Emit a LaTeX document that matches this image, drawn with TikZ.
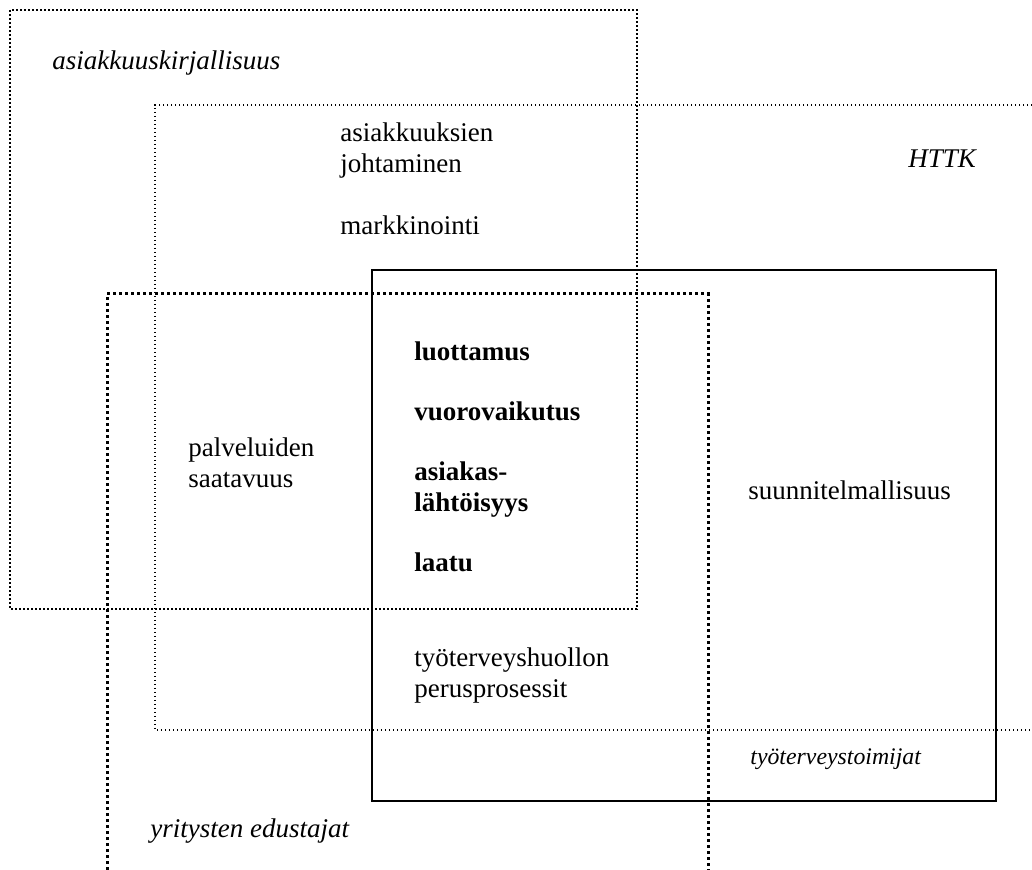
\documentclass[tikz,border=0pt]{standalone}
\usepackage{fontspec}
\setmainfont{Liberation Serif}
\begin{document}
\begin{tikzpicture}[x=0.5pt,y=-0.5pt,
  lbl/.style={anchor=base west,inner sep=0pt,align=left,font=\fontsize{13.5}{15.5}\selectfont},
  lblb/.style={lbl,font=\fontsize{13.5}{15.5}\selectfont\bfseries},
  lbli/.style={lbl,font=\fontsize{13.5}{15.5}\selectfont\itshape},
  lblsmall/.style={lbl,font=\fontsize{11.9}{14}\selectfont\itshape},
  litbox/.style={line width=1pt,dash pattern=on 1pt off 1pt},
  httkbox/.style={line width=0.65pt,dash pattern=on 0.65pt off 1.35pt},
  firmbox/.style={line width=1.5pt,dash pattern=on 1.5pt off 1.5pt},
  actorbox/.style={line width=1pt}]
\useasboundingbox (0,0) rectangle (1032,870);

% areas
\draw[litbox] (10,10) rectangle (637,609);
\draw[httkbox] (1032,105) -- (155,105) -- (155,730) -- (1032,730);
\draw[firmbox] (107,870) -- (107,294) -- (708,294) -- (708,870);
\draw[actorbox] (372,270) rectangle (996,801);

% area labels (baselines)
\node[lbli] (lit) at (52,70) {asiakkuuskirjallisuus};
\node[lbli] (httk) at (908,168) {HTTK};
\node[lblsmall] (actors) at (750,764) {työterveystoimijat};
\node[lbli] (firms) at (150,837) {yritysten edustajat};

% topics (baseline of the last line)
\node[lbl] (mgmt) at (340,173) {asiakkuuksien\\johtaminen};
\node[lbl] (mark) at (340,235) {markkinointi};
\node[lbl] (avail) at (188,488) {palveluiden\\saatavuus};
\node[lbl] (plan) at (748,500) {suunnitelmallisuus};
\node[lbl] (proc) at (414,697) {työterveyshuollon\\perusprosessit};

\node[lblb] (trust) at (414,361) {luottamus};
\node[lblb] (inter) at (414,421) {vuorovaikutus};
\node[lblb] (cust) at (414,512) {asiakas-\\lähtöisyys};
\node[lblb] (qual) at (414,572) {laatu};
\end{tikzpicture}
\end{document}
